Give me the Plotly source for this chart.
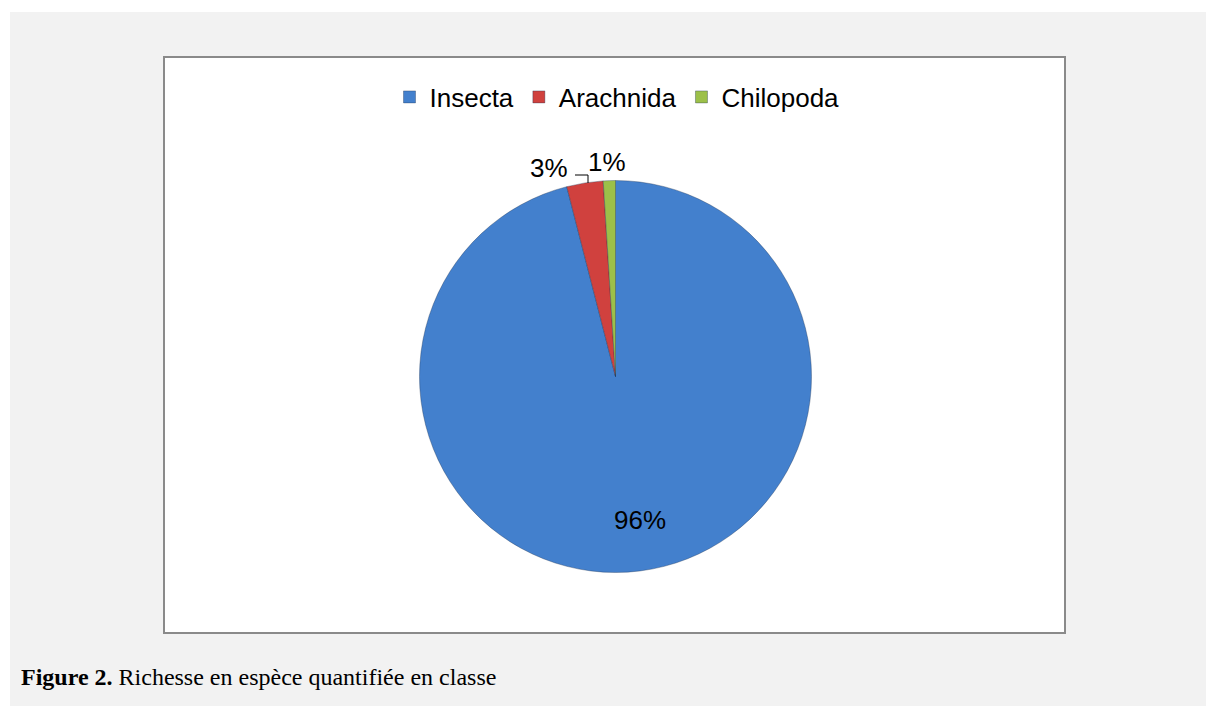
import plotly.graph_objects as go

W, H = 1206, 706

categories = ["Insecta", "Arachnida", "Chilopoda"]
values = [96, 3, 1]
colors = ["#4380cd", "#d0413e", "#9cc049"]
caption_bold = "Figure 2."
caption_text = "Richesse en espèce quantifiée en classe"


def px(x):
    return x / W


def py(y):
    return (H - y) / H


cx, cy, r = 615.5, 376.5, 196
total = sum(values)
pct = [f"{round(v / total * 100)}%" for v in values]

fig = go.Figure()
fig.add_trace(go.Pie(
    labels=categories,
    values=values,
    sort=False,
    direction="clockwise",
    rotation=0,
    marker=dict(colors=colors, line=dict(color="rgba(30,50,80,0.35)", width=1)),
    textinfo="none",
    domain=dict(x=[px(cx - r), px(cx + r)], y=[py(cy + r), py(cy - r)]),
    hoverinfo="label+percent",
))

label_font = dict(family="Liberation Sans, Arial", size=26, color="#000000")
label_pos = [(640, 520), (549, 168), (607, 162)]

annotations = [
    dict(xref="paper", yref="paper", x=px(lx), y=py(ly),
         xanchor="center", yanchor="middle", showarrow=False,
         text=t, font=label_font)
    for t, (lx, ly) in zip(pct, label_pos)
]
annotations.append(
    dict(xref="paper", yref="paper", x=px(19), y=py(677),
         xanchor="left", yanchor="middle", showarrow=False,
         text=f"<b>{caption_bold}</b> {caption_text}",
         font=dict(family="Liberation Serif, Times New Roman", size=24, color="#000000"))
)

leader = f"M {px(575)},{py(175)} L {px(588)},{py(175)} L {px(588)},{py(183)}"

fig.update_layout(
    width=W, height=H,
    margin=dict(l=0, r=0, t=0, b=0),
    paper_bgcolor="#ffffff",
    plot_bgcolor="#ffffff",
    showlegend=True,
    legend=dict(
        orientation="h",
        x=px(617), xanchor="center",
        y=py(97), yanchor="middle",
        font=dict(family="Liberation Sans, Arial", size=26, color="#000000"),
        bgcolor="rgba(0,0,0,0)",
    ),
    shapes=[
        dict(type="rect", xref="paper", yref="paper",
             x0=px(10), x1=1, y0=0, y1=py(12),
             fillcolor="#f2f2f2", line=dict(width=0), layer="below"),
        dict(type="rect", xref="paper", yref="paper",
             x0=px(164), x1=px(1065), y0=py(633), y1=py(57),
             fillcolor="#ffffff", line=dict(color="#8a8a8a", width=2), layer="below"),
        dict(type="path", xref="paper", yref="paper", path=leader,
             line=dict(color="#000000", width=1)),
    ],
    annotations=annotations,
)

fig.write_html(
    "out.html",
    config={"displayModeBar": False},
    post_script="document.body.style.margin='0';document.body.style.overflow='hidden';",
)
